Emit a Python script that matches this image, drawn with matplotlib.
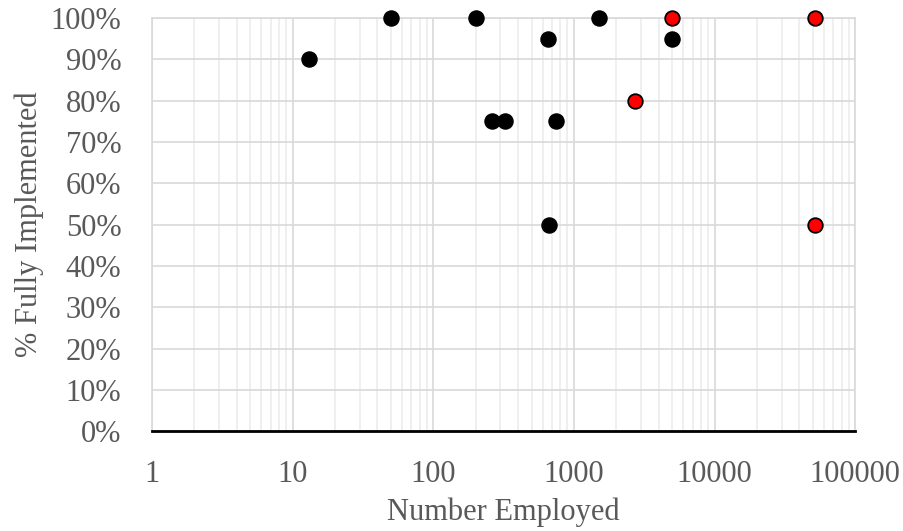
import matplotlib
matplotlib.use("Agg")
import matplotlib.pyplot as plt
from matplotlib.ticker import FuncFormatter, LogLocator, FixedLocator, NullFormatter

# Organisations: headcount vs. share of measures fully implemented
employed_black = [13, 50, 200, 650, 260, 325, 750, 670, 1500, 5000]
implemented_black = [90, 100, 100, 95, 75, 75, 75, 50, 100, 95]

employed_red = [5000, 2700, 52000, 52000]
implemented_red = [100, 80, 100, 50]

x_ticks = [1, 10, 100, 1000, 10000, 100000]
y_ticks = list(range(0, 101, 10))

text_grey = "#595959"
plt.rcParams["font.family"] = ["Liberation Serif", "DejaVu Serif"]

fig = plt.figure(figsize=(9.04, 5.31), dpi=100)
ax = fig.add_axes([0.168, 0.188, 0.778, 0.778])

ax.set_xscale("log")
ax.set_xlim(1, 100000)
ax.set_ylim(0, 100)

ax.xaxis.set_major_locator(FixedLocator(x_ticks))
ax.xaxis.set_minor_locator(LogLocator(base=10, subs=range(2, 10)))
ax.xaxis.set_major_formatter(FuncFormatter(lambda v, p: f"{v:.0f}"))
ax.xaxis.set_minor_formatter(NullFormatter())
ax.yaxis.set_major_locator(FixedLocator(y_ticks))
ax.yaxis.set_major_formatter(FuncFormatter(lambda v, p: f"{v:.0f}%"))

ax.grid(which="major", axis="both", color="#d9d9d9", linewidth=1.2, zorder=0)
ax.grid(which="minor", axis="x", color="#ececec", linewidth=1.2, zorder=0)
ax.set_axisbelow(True)

ax.scatter(employed_black, implemented_black, s=118, color="black",
           edgecolors="black", linewidths=1, zorder=3, clip_on=False)
ax.scatter(employed_red, implemented_red, s=110, color="#ff0000",
           edgecolors="black", linewidths=1.3, zorder=3, clip_on=False)

for side in ("top", "right", "left"):
    ax.spines[side].set_color("#d9d9d9")
    ax.spines[side].set_linewidth(1.2)
ax.spines["bottom"].set_color("black")
ax.spines["bottom"].set_linewidth(2)

ax.tick_params(which="both", length=0, labelsize=22, labelcolor=text_grey)
ax.tick_params(axis="x", pad=21)
ax.tick_params(axis="y", pad=22)

ax.set_xlabel("Number Employed", fontsize=22, color=text_grey, labelpad=6)
ax.set_ylabel("% Fully Implemented", fontsize=22, color=text_grey, labelpad=5)

fig.savefig("out.png", dpi=100)
